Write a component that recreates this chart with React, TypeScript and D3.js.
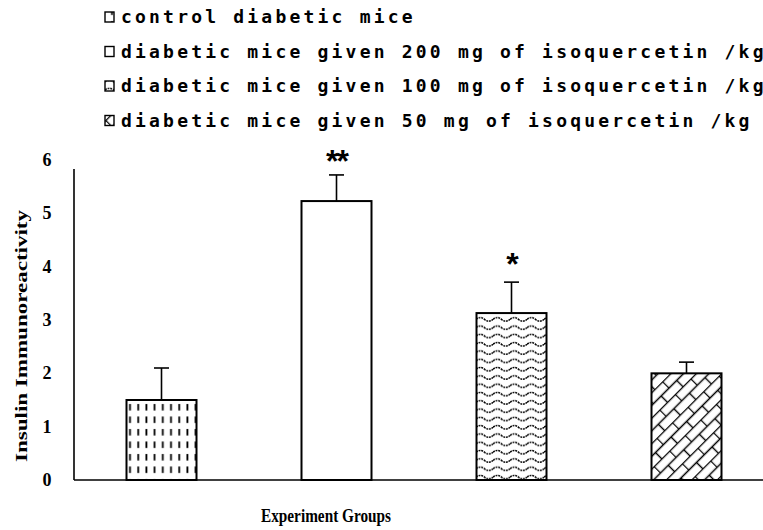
import * as d3 from 'd3';
import React, { useRef, useEffect } from 'react';

const groups = ['control', 'd200', 'd100', 'd50'];
const means = [1.5, 5.23, 3.13, 2.0];
const errTops = [2.1, 5.72, 3.71, 2.21];
const sigMarks = ['', '**', '*', ''];
const sigAt = [0, 6.15, 4.22, 0];
const legendLabels = [
    'control diabetic mice',
    'diabetic mice given 200 mg of isoquercetin /kg',
    'diabetic mice given 100 mg of isoquercetin /kg',
    'diabetic mice given 50 mg of isoquercetin /kg',
];
const patternIds = ['pDash', 'pNone', 'pWave', 'pBrick'];
const yTicks = [0, 1, 2, 3, 4, 5, 6];

function App() {
    const ref = useRef<SVGSVGElement>(null);

    useEffect(() => {
        const width = 763;
        const height = 530;
        const svg = d3.select(ref.current)
            .attr('width', width)
            .attr('height', height);
        svg.selectAll('*').remove();

        // fill patterns
        const defs = svg.append('defs');
        const dash = defs.append('pattern').attr('id', 'pDash')
            .attr('patternUnits', 'userSpaceOnUse')
            .attr('width', 8.2).attr('height', 12.5)
            .attr('x', 3).attr('y', 2);
        dash.append('line').attr('x1', 4).attr('x2', 4).attr('y1', 2).attr('y2', 8.5)
            .attr('stroke', '#000').attr('stroke-width', 1.8);

        const wave = defs.append('pattern').attr('id', 'pWave')
            .attr('patternUnits', 'userSpaceOnUse')
            .attr('width', 17).attr('height', 8.3);
        wave.append('path')
            .attr('d', 'M0,4 Q4.25,0.5 8.5,4 T17,4')
            .attr('fill', 'none').attr('stroke', '#000')
            .attr('stroke-width', 1.5).attr('stroke-dasharray', '2,0.8');

        const brick = defs.append('pattern').attr('id', 'pBrick')
            .attr('patternUnits', 'userSpaceOnUse')
            .attr('width', 22).attr('height', 18)
            .attr('patternTransform', 'rotate(-45)');
        brick.append('path')
            .attr('d', 'M0,0.5 H22 M0,9.5 H22 M0.5,0.5 V9.5 M11.5,9.5 V18.5')
            .attr('fill', 'none').attr('stroke', '#000').attr('stroke-width', 1.4);

        const x = d3.scaleBand()
            .domain(groups)
            .range([74, 774])
            .paddingInner(0.6)
            .paddingOuter(0.3);

        const y = d3.scaleLinear()
            .domain([0, 6])
            .range([480, 160]);

        const g = svg.append('g');

        // axes
        g.append('line')
            .attr('x1', 74).attr('x2', 74)
            .attr('y1', y(0)).attr('y2', y(5.83))
            .attr('stroke', '#000').attr('stroke-width', 1.6);
        g.append('line')
            .attr('x1', 74).attr('x2', width)
            .attr('y1', y(0)).attr('y2', y(0))
            .attr('stroke', '#000').attr('stroke-width', 1.6);

        g.selectAll('text.tick')
            .data(yTicks)
            .join('text')
            .attr('class', 'tick')
            .attr('x', 47)
            .attr('y', d => y(d) + 6)
            .attr('text-anchor', 'middle')
            .attr('font-family', '"Liberation Serif", serif')
            .attr('font-weight', 'bold')
            .attr('font-size', 18)
            .text(d => d);

        // error bars
        g.selectAll('line.err')
            .data(groups)
            .join('line')
            .attr('class', 'err')
            .attr('x1', d => x(d)! + x.bandwidth() / 2)
            .attr('x2', d => x(d)! + x.bandwidth() / 2)
            .attr('y1', (d, i) => y(means[i]))
            .attr('y2', (d, i) => y(errTops[i]))
            .attr('stroke', '#000').attr('stroke-width', 1.6);
        g.selectAll('line.cap')
            .data(groups)
            .join('line')
            .attr('class', 'cap')
            .attr('x1', d => x(d)! + x.bandwidth() / 2 - 7.5)
            .attr('x2', d => x(d)! + x.bandwidth() / 2 + 7.5)
            .attr('y1', (d, i) => y(errTops[i]))
            .attr('y2', (d, i) => y(errTops[i]))
            .attr('stroke', '#000').attr('stroke-width', 1.6);

        // bars
        g.selectAll('rect.bg')
            .data(groups)
            .join('rect')
            .attr('class', 'bg')
            .attr('x', d => x(d)!)
            .attr('width', x.bandwidth())
            .attr('y', (d, i) => y(means[i]))
            .attr('height', (d, i) => y(0) - y(means[i]))
            .attr('fill', '#fff');
        g.selectAll('rect.bar')
            .data(groups)
            .join('rect')
            .attr('class', 'bar')
            .attr('x', d => x(d)!)
            .attr('width', x.bandwidth())
            .attr('y', (d, i) => y(means[i]))
            .attr('height', (d, i) => y(0) - y(means[i]))
            .attr('fill', (d, i) => patternIds[i] === 'pNone' ? '#fff' : `url(#${patternIds[i]})`)
            .attr('stroke', '#000')
            .attr('stroke-width', 2);

        // significance marks
        g.selectAll('text.sig')
            .data(groups)
            .join('text')
            .attr('class', 'sig')
            .attr('x', d => x(d)! + x.bandwidth() / 2)
            .attr('y', (d, i) => y(sigAt[i]) + 20)
            .attr('text-anchor', 'middle')
            .attr('font-family', '"Liberation Sans", sans-serif')
            .attr('font-weight', 'bold')
            .attr('font-size', 32)
            .attr('letter-spacing', -2)
            .text((d, i) => sigMarks[i]);

        // axis titles
        g.append('text')
            .attr('transform', 'translate(27,336) rotate(-90)')
            .attr('text-anchor', 'middle')
            .attr('font-family', '"Liberation Serif", serif')
            .attr('font-weight', 'bold')
            .attr('font-size', 16)
            .attr('textLength', 252)
            .attr('lengthAdjust', 'spacingAndGlyphs')
            .text('Insulin Immunoreactivity');
        g.append('text')
            .attr('x', 326)
            .attr('y', 522)
            .attr('text-anchor', 'middle')
            .attr('font-family', '"Liberation Serif", serif')
            .attr('font-weight', 'bold')
            .attr('font-size', 18)
            .attr('textLength', 130)
            .attr('lengthAdjust', 'spacingAndGlyphs')
            .text('Experiment Groups');

        // legend
        const leg = svg.append('g')
            .selectAll('g')
            .data(legendLabels)
            .join('g')
            .attr('transform', (d, i) => `translate(105,${17 + i * 34.5})`);
        leg.append('rect')
            .attr('x', 0).attr('y', -5)
            .attr('width', 9).attr('height', 10)
            .attr('fill', (d, i) => patternIds[i] === 'pNone' ? '#fff' : `url(#${patternIds[i]})`)
            .attr('stroke', '#000').attr('stroke-width', 1.4);
        leg.append('text')
            .attr('x', 16)
            .attr('y', 6)
            .attr('font-family', '"DejaVu Sans Mono", monospace')
            .attr('font-weight', 'bold')
            .attr('font-size', 18)
            .attr('letter-spacing', 3.2)
            .text(d => d);
    }, []);

    return (
        <div style={{ position: 'absolute', left: 0, top: 0 }}>
            <svg ref={ref}></svg>
        </div>
    );
}

export default App;
